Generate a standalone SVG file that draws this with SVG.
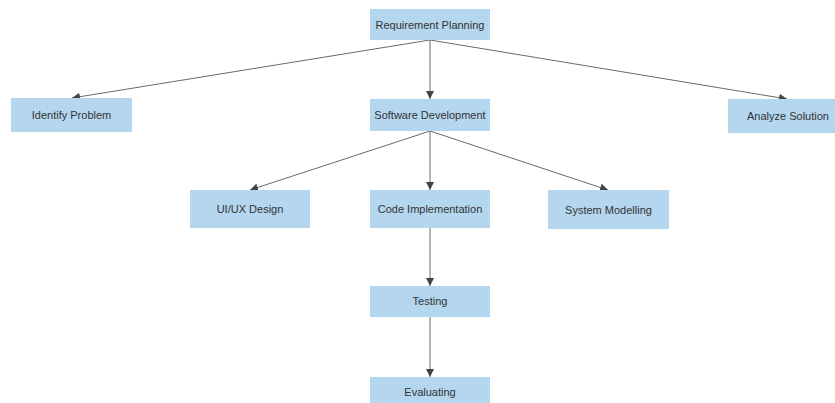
<svg xmlns="http://www.w3.org/2000/svg" width="835" height="403" viewBox="0 0 835 403">
<style>
.box{fill:#b4d6ef;}
.lbl{font-family:"Liberation Sans",Arial,sans-serif;font-size:11px;fill:#333;text-anchor:middle;dominant-baseline:central;}
.edge{stroke:#6a6a6a;stroke-width:1;fill:none;marker-end:url(#arr);}
</style>
<defs>
<marker id="arr" viewBox="0 0 10 10" refX="10" refY="5" markerWidth="8" markerHeight="8" markerUnits="userSpaceOnUse" orient="auto">
<path d="M0,0 L10,5 L0,10 z" fill="#444"/>
</marker>
</defs>
<rect width="835" height="403" fill="#fff"/>
<g id="connectors">
<line class="edge" x1="430" y1="40" x2="430" y2="99"/>
<line class="edge" x1="430" y1="40" x2="72" y2="98"/>
<line class="edge" x1="430" y1="40" x2="787" y2="99"/>
<line class="edge" x1="430" y1="131" x2="250" y2="190"/>
<line class="edge" x1="430" y1="131" x2="430" y2="190"/>
<line class="edge" x1="430" y1="131" x2="608" y2="190"/>
<line class="edge" x1="430" y1="228" x2="430" y2="286"/>
<line class="edge" x1="430" y1="317" x2="430" y2="377"/>
</g>
<g id="n-req"><rect class="box" x="370" y="9" width="120" height="31"/><text class="lbl" x="430" y="24.5">Requirement Planning</text></g>
<g id="n-identify"><rect class="box" x="11" y="98" width="121" height="34"/><text class="lbl" x="71.5" y="115">Identify Problem</text></g>
<g id="n-software"><rect class="box" x="370" y="99" width="120" height="32"/><text class="lbl" x="430" y="115">Software Development</text></g>
<g id="n-analyze"><rect class="box" x="728" y="99" width="120" height="34"/><text class="lbl" x="788" y="116">Analyze Solution</text></g>
<g id="n-uiux"><rect class="box" x="190" y="190" width="120" height="38"/><text class="lbl" x="250" y="209">UI/UX Design</text></g>
<g id="n-code"><rect class="box" x="370" y="190" width="120" height="38"/><text class="lbl" x="430" y="209">Code Implementation</text></g>
<g id="n-system"><rect class="box" x="548" y="190" width="121" height="39"/><text class="lbl" x="608.5" y="210">System Modelling</text></g>
<g id="n-testing"><rect class="box" x="370" y="286" width="120" height="31"/><text class="lbl" x="430" y="300.5">Testing</text></g>
<g id="n-eval"><rect class="box" x="370" y="377" width="120" height="32"/><text class="lbl" x="430" y="392">Evaluating</text></g>
</svg>
